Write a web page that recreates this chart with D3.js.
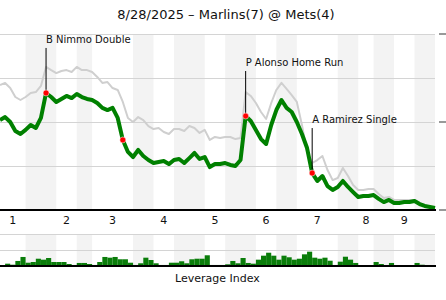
<!DOCTYPE html>
<html>
<head>
<meta charset="utf-8">
<script src="https://cdn.jsdelivr.net/npm/d3@7"></script>
<style>
body { margin: 0; background: #fff; }
svg { display: block; font-family: "DejaVu Sans", Verdana, sans-serif; }
</style>
</head>
<body>
<div id="chart"></div>
<script>
var title = "8/28/2025 \u2013 Marlins(7) @ Mets(4)";

// plate appearances per half inning: top 1, bottom 1, top 2, ...
var halfInningPA = [5, 6, 4, 3, 8, 4, 4, 6, 4, 6, 4, 4, 8, 4, 3, 4, 4, 4];
var inningLabels = ["1", "2", "3", "4", "5", "6", "7", "8", "9"];

// Mets win probability (%) after each plate appearance (index 0 = first pitch)
var winProb = [
    51.1, 52.8, 50.0, 44.9, 43.2, 45.5, 48.3, 46.6, 52.3, 66.5,
    64.2, 61.4, 63.1, 64.8, 63.6, 65.9, 64.2, 63.1, 62.5, 60.8,
    58.0, 56.8, 58.0, 52.3, 39.8, 33.0, 30.1, 34.1, 30.7, 28.4,
    26.7, 27.3, 27.8, 26.1, 28.4, 29.0, 26.7, 29.5, 32.4, 29.0,
    30.1, 24.4, 26.1, 26.1, 26.7, 25.6, 25.0, 28.4, 53.4, 50.6,
    45.5, 40.3, 37.5, 48.3, 56.8, 62.5, 58.0, 55.7, 50.0, 43.2,
    35.2, 21.0, 16.5, 19.3, 13.6, 11.4, 13.1, 16.5, 13.1, 10.2,
    7.4, 8.0, 8.0, 8.5, 6.3, 4.5, 5.7, 4.0, 4.0, 4.5,
    4.5, 5.1, 3.4, 2.3, 1.7, 1.1
];

// second (grey) win probability estimate
var winProbAlt = [
    71.0, 72.2, 69.3, 64.2, 62.5, 64.2, 66.5, 67.0, 70.5, 81.3,
    79.5, 77.8, 79.0, 79.5, 78.4, 81.3, 79.5, 79.5, 78.4, 75.6,
    72.2, 72.7, 69.3, 68.2, 61.4, 52.3, 50.0, 52.8, 51.1, 47.7,
    46.0, 46.6, 44.3, 43.2, 46.0, 46.0, 44.9, 47.7, 46.6, 43.8,
    45.5, 39.8, 41.5, 40.9, 41.5, 41.5, 40.3, 40.9, 67.0, 64.8,
    60.8, 55.7, 51.7, 60.8, 68.2, 72.2, 68.8, 65.3, 61.4, 48.3,
    33.0, 26.7, 28.4, 30.7, 22.7, 17.0, 18.2, 23.9, 19.3, 14.2,
    11.4, 11.4, 11.9, 11.9, 9.1, 6.8, 7.4, 5.7, 5.7, 5.7,
    5.7, 5.7, 4.0, 2.8, 1.7, 1.1
];

// leverage index of each plate appearance
var leverage = [
    0.00, 0.29, 0.16, 0.63, 1.13, 0.41, 0.50, 0.91, 0.79, 1.00,
    0.50, 0.50, 0.50, 0.25, 0.13, 0.38, 0.38, 0.25, 0.13, 0.50,
    1.13, 1.04, 1.13, 0.84, 0.84, 0.41, 0.13, 0.34, 1.04, 0.75,
    0.34, 0.13, 0.13, 0.41, 0.41, 0.59, 0.34, 0.84, 0.91, 0.91,
    1.34, 0.13, 0.13, 0.13, 0.21, 0.63, 0.34, 1.00, 0.38, 0.29,
    0.79, 1.29, 1.66, 1.29, 0.79, 1.29, 1.09, 0.79, 0.91, 1.46,
    1.79, 1.04, 0.91, 1.04, 0.66, 0.13, 0.54, 1.16, 0.79, 0.38,
    0.00, 0.00, 0.00, 0.50, 0.25, 0.00, 0.38, 0.00, 0.00, 0.00,
    0.00, 0.38, 0.16, 0.00, 0.00
];

// big plays (index into winProb)
var highlightPA = [9, 24, 48, 61];
var labelPA = [9, 48, 61];
var labelText = ["B Nimmo Double", "P Alonso Home Run", "A Ramirez Single"];

var width = 446, height = 300;
var plotRight = 435;

var svg = d3.select("#chart")
    .append("svg")
    .attr("width", width)
    .attr("height", height);

var totalPA = d3.sum(halfInningPA);
var x = d3.scaleLinear().domain([0, totalPA]).range([0, plotRight]);
var y = d3.scaleLinear().domain([0, 100]).range([210, 34]);
var yLev = d3.scaleLinear().domain([0, 4]).range([266, 234]);

// half inning boundaries
var bounds = [0];
halfInningPA.forEach(function(n) { bounds.push(bounds[bounds.length - 1] + n); });

// shade the bottom halves
var bottoms = d3.range(1, halfInningPA.length, 2);
svg.append("g")
    .selectAll("rect")
    .data(bottoms)
    .enter()
    .append("rect")
    .attr("x", function(i) { return x(bounds[i]); })
    .attr("width", function(i) { return x(bounds[i + 1]) - x(bounds[i]); })
    .attr("y", y(100))
    .attr("height", y(0) - y(100))
    .attr("fill", "#f3f3f3");

svg.append("g")
    .selectAll("rect")
    .data(bottoms)
    .enter()
    .append("rect")
    .attr("x", function(i) { return x(bounds[i]); })
    .attr("width", function(i) { return x(bounds[i + 1]) - x(bounds[i]); })
    .attr("y", yLev(4))
    .attr("height", yLev(0) - yLev(4))
    .attr("fill", "#f3f3f3");

// gridlines
svg.append("g")
    .attr("transform", "translate(0,0)")
    .call(d3.axisLeft(y).tickValues([25, 50, 75, 100]).tickSize(-plotRight).tickFormat(""))
    .call(function(g) { g.select(".domain").remove(); })
    .selectAll("line")
    .attr("stroke", "#d4d4d4");

svg.append("g")
    .call(d3.axisLeft(yLev).tickValues([2, 4]).tickSize(-plotRight).tickFormat(""))
    .call(function(g) { g.select(".domain").remove(); })
    .selectAll("line")
    .attr("stroke", "#d4d4d4");

// small ticks on the right
svg.append("g")
    .selectAll("line")
    .data([0, 50, 100])
    .enter()
    .append("line")
    .attr("x1", 439).attr("x2", 446)
    .attr("y1", function(d) { return y(d); })
    .attr("y2", function(d) { return y(d); })
    .attr("stroke", "#999")
    .attr("stroke-width", 2);

// grey line
var line = d3.line()
    .x(function(d, i) { return x(i); })
    .y(function(d) { return y(d); });

svg.append("path")
    .datum(winProbAlt)
    .attr("d", line)
    .attr("fill", "none")
    .attr("stroke", "#cfcfcf")
    .attr("stroke-width", 2)
    .attr("stroke-linejoin", "round");

svg.append("path")
    .datum(winProb)
    .attr("d", line)
    .attr("fill", "none")
    .attr("stroke", "#008000")
    .attr("stroke-width", 4)
    .attr("stroke-linejoin", "round");

// annotations
labelPA.forEach(function(p, j) {
    var cx = x(p), cy = y(winProb[p]);
    svg.append("line")
        .attr("x1", cx).attr("x2", cx)
        .attr("y1", cy).attr("y2", cy - 45)
        .attr("stroke", "#000")
        .attr("stroke-width", 1);
    svg.append("text")
        .attr("x", cx)
        .attr("y", cy - 50)
        .attr("font-size", "10px")
        .attr("fill", "#111")
        .text(labelText[j]);
});

svg.append("g")
    .selectAll("circle")
    .data(highlightPA)
    .enter()
    .append("circle")
    .attr("cx", function(p) { return x(p); })
    .attr("cy", function(p) { return y(winProb[p]); })
    .attr("r", 3)
    .attr("fill", "#ff0000")
    .attr("stroke", "#fff")
    .attr("stroke-width", 0.5);

// x axis
svg.append("line")
    .attr("x1", 0).attr("x2", plotRight + 1)
    .attr("y1", y(0)).attr("y2", y(0))
    .attr("stroke", "#000")
    .attr("stroke-width", 2);

svg.append("g")
    .selectAll("text")
    .data(inningLabels)
    .enter()
    .append("text")
    .attr("x", function(d, i) { return x((bounds[2 * i] + bounds[2 * i + 1]) / 2); })
    .attr("y", 224)
    .attr("text-anchor", "middle")
    .attr("font-size", "11px")
    .attr("fill", "#111")
    .text(function(d) { return d; });

// leverage bars
svg.append("g")
    .selectAll("rect")
    .data(leverage)
    .enter()
    .append("rect")
    .attr("x", function(d, i) { return x(i); })
    .attr("width", function(d, i) { return x(i + 1) - x(i); })
    .attr("y", function(d) { return yLev(d); })
    .attr("height", function(d) { return yLev(0) - yLev(d); })
    .attr("fill", "#0a7d0a");

svg.append("line")
    .attr("x1", 0).attr("x2", plotRight + 1)
    .attr("y1", yLev(0)).attr("y2", yLev(0))
    .attr("stroke", "#000")
    .attr("stroke-width", 2);

svg.append("text")
    .attr("x", plotRight / 2)
    .attr("y", 282)
    .attr("text-anchor", "middle")
    .attr("font-size", "11px")
    .attr("fill", "#111")
    .text("Leverage Index");

svg.append("text")
    .attr("x", width / 2 + 3)
    .attr("y", 19)
    .attr("text-anchor", "middle")
    .attr("font-size", "13px")
    .attr("fill", "#111")
    .text(title);
</script>
</body>
</html>
